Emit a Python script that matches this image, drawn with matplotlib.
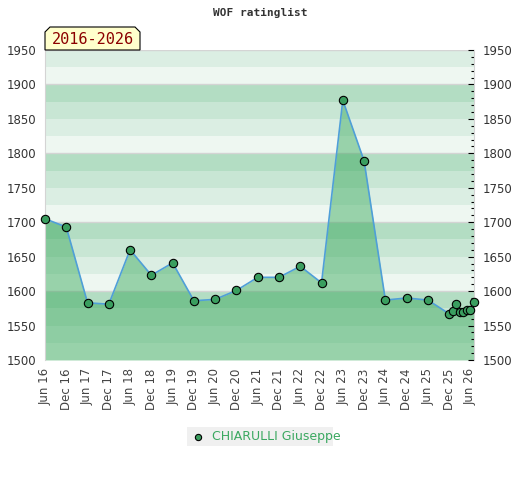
import matplotlib.pyplot as plt
from matplotlib.patches import Polygon
from matplotlib.ticker import MultipleLocator
import numpy as np

# months counted from Jun 2016
months = [0, 6, 12, 18, 24, 30, 36, 42, 48, 54, 60, 66, 72, 78, 84, 90,
          96, 102, 108, 114, 115, 116, 117, 118, 119, 120, 121]
ratings = [1705, 1693, 1583, 1581, 1660, 1623, 1641, 1586, 1588, 1601,
           1620, 1620, 1636, 1612, 1877, 1789, 1587, 1590, 1587, 1567,
           1571, 1581, 1569, 1569, 1572, 1572, 1584]
tick_months = list(range(0, 121, 6))
tick_labels = ['%s %02d' % ('Jun' if i % 2 == 0 else 'Dec', 16 + i // 2)
               for i in range(len(tick_months))]
player = 'CHIARULLI Giuseppe'
period = '2016-2026'
y_min, y_max = 1500, 1950

band_colors = ['#eef7f1', '#dbeee3', '#c8e6d4', '#b3ddc3']

fig = plt.figure(figsize=(5.2, 4.8), dpi=100)
ax = fig.add_axes([45 / 520, 120 / 480, 429 / 520, 310 / 480])

# striped background
for lo in range(y_min, y_max, 25):
    ax.axhspan(lo, lo + 25, color=band_colors[(lo % 100) // 25], lw=0, zorder=0)
for g in range(1600, y_max, 100):
    ax.axhline(g, color='#d4d4d4', lw=1, zorder=0.5)
ax.axhline(y_max, color='#d4d4d4', lw=1, zorder=0.5)

# data
ax.fill_between(months, ratings, y_min, color='#31a555', alpha=0.45, lw=0, zorder=1)
ax.plot([months[0], months[0]], [y_min, ratings[0]], color='#2e9e50', lw=1.2, zorder=2)
ax.plot(months, ratings, color='#4f9fd8', lw=1.2, zorder=3)
ax.plot(months, ratings, 'o', ms=6, mfc='#3a9e5f', mec='black', mew=0.8,
        zorder=4, clip_on=False)

ax.set_xlim(0, 121)
ax.set_ylim(y_min, y_max)
ax.set_xticks(tick_months)
ax.set_xticklabels(tick_labels, rotation=90, fontsize=8.5, color='#444444')
ax.set_yticks(range(y_min, y_max + 1, 50))
ax.tick_params(axis='x', length=0, pad=6)
ax.tick_params(axis='y', which='both', left=False, right=True, labelleft=True,
               labelright=True, direction='in', labelsize=8.5, colors='black',
               length=4, width=0.8, pad=6)
ax.tick_params(axis='y', which='minor', length=2, width=0.8)
ax.yaxis.set_minor_locator(MultipleLocator(10))
for lab in ax.get_yticklabels():
    lab.set_color('#333333')
for s in ['left', 'right', 'top', 'bottom']:
    ax.spines[s].set_color('#d4d4d4')
ax.spines['top'].set_visible(False)
ax.spines['bottom'].set_visible(False)

# title
fig.text(0.5, 1 - 13 / 480, 'WOF ratinglist', ha='center', va='center',
         family='DejaVu Sans Mono', fontweight='bold', fontsize=8, color='#333333')

# period label box with chamfered top corners
bx0, bx1, by0, by1, c = 45, 140, 430, 453, 5
pts = [(bx0, by0), (bx0, by1 - c), (bx0 + c, by1), (bx1 - c, by1), (bx1, by1 - c), (bx1, by0)]
fig.patches.append(Polygon([(x / 520, y / 480) for x, y in pts], closed=True,
                           transform=fig.transFigure, fc='#ffffcc', ec='black', lw=0.8))
fig.text((bx0 + bx1) / 2 / 520, (by0 + by1) / 2 / 480 - 0.002, period, ha='center',
         va='center', family='DejaVu Sans Mono', fontsize=11, color='#8b0000')

# legend
leg = fig.add_axes([187 / 520, 34 / 480, 146 / 520, 19 / 480])
leg.set_xlim(0, 146)
leg.set_ylim(0, 19)
leg.axis('off')
leg.add_patch(plt.Rectangle((0, 0), 146, 19, fc='#f0f0f0', ec='none'))
leg.plot([11], [9.5], 'o', ms=4.5, mfc='#3a9e5f', mec='black', mew=0.8)
leg.text(25, 9.5, player, va='center', ha='left', fontsize=9, color='#3aa860')

fig.savefig('out.png', dpi=100)
